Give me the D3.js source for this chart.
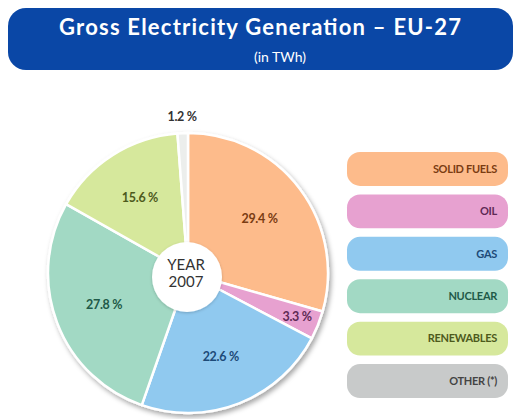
<!DOCTYPE html>
<html>
<head>
<meta charset="utf-8">
<script src="https://cdn.jsdelivr.net/npm/d3@7"></script>
<style>
  html, body { margin: 0; padding: 0; background: #ffffff; }
  svg { display: block; }
  text { font-family: Lato, "Open Sans", sans-serif; }
</style>
</head>
<body>
<svg id="chart" width="516" height="419"></svg>
<script>
// Gross electricity generation shares, EU-27, 2007
const sources = ["SOLID FUELS", "OIL", "GAS", "NUCLEAR", "RENEWABLES", "OTHER (*)"];
const shares = [29.4, 3.3, 22.6, 27.8, 15.6, 1.2];
const sliceColors = ["#fdbb8b", "#e7a1d0", "#90c9ef", "#a2d9c4", "#d6e89c", "#eceeec"];
const pillColors = ["#fdbb8b", "#e7a1d0", "#90c9ef", "#a2d9c4", "#d6e89c", "#c8caca"];
const textColors = ["#7a3c12", "#5e2a55", "#1d4a78", "#1f5a48", "#4d5a1c", "#444444"];
const yearLabel = ["YEAR", "2007"];

const svg = d3.select("#chart");

// drop shadow for the pie
const defs = svg.append("defs");
const shadow = defs.append("filter").attr("id", "pieShadow")
  .attr("x", "-20%").attr("y", "-20%").attr("width", "140%").attr("height", "140%");
shadow.append("feDropShadow").attr("dx", 2).attr("dy", 3)
  .attr("stdDeviation", 2.5).attr("flood-color", "#000").attr("flood-opacity", 0.35);
const innerShadow = defs.append("filter").attr("id", "holeShadow")
  .attr("x", "-30%").attr("y", "-30%").attr("width", "160%").attr("height", "160%");
innerShadow.append("feDropShadow").attr("dx", 0).attr("dy", 1)
  .attr("stdDeviation", 1.5).attr("flood-color", "#000").attr("flood-opacity", 0.2);

// title banner
svg.append("rect")
  .attr("x", 8).attr("y", 8).attr("width", 505).attr("height", 62)
  .attr("rx", 18).attr("ry", 18)
  .attr("fill", "#0a47a6");
svg.append("text")
  .attr("x", 260).attr("y", 35)
  .attr("text-anchor", "middle")
  .attr("fill", "#ffffff").attr("font-weight", 700).attr("font-size", 22)
  .attr("textLength", 402).attr("lengthAdjust", "spacing")
  .text("Gross Electricity Generation \u2013 EU-27");
svg.append("text")
  .attr("x", 280).attr("y", 62)
  .attr("text-anchor", "middle")
  .attr("fill", "#ffffff").attr("font-size", 14)
  .text("(in TWh)");

// pie
const cx = 188, cy = 273, radius = 140;
const pie = d3.pie().sort(null).value(d => d)(shares);
const arc = d3.arc().innerRadius(0).outerRadius(radius);

const g = svg.append("g").attr("transform", `translate(${cx},${cy})`);
const slices = g.append("g").attr("filter", "url(#pieShadow)");
slices.selectAll("path")
  .data(pie)
  .join("path")
  .attr("d", arc)
  .attr("fill", (d, i) => sliceColors[i])
  .attr("stroke", "#ffffff")
  .attr("stroke-width", 2.5)
  .attr("stroke-linejoin", "round");

// label radius depends on slice size: tiny ones sit outside, thin ones near the rim
function labelRadius(v) {
  if (v < 2) return radius + 16;
  if (v < 5) return radius * 0.84;
  return radius * 0.64;
}
g.selectAll("text.pct")
  .data(pie)
  .join("text")
  .attr("class", "pct")
  .attr("transform", d => {
    const a = (d.startAngle + d.endAngle) / 2;
    const r = labelRadius(d.data);
    return `translate(${r * Math.sin(a)},${-r * Math.cos(a)})`;
  })
  .attr("text-anchor", "middle")
  .attr("dy", "0.35em")
  .attr("font-size", 12.5)
  .attr("font-weight", 700)
  .attr("letter-spacing", -0.3)
  .attr("fill", (d, i) => d.data < 2 ? "#333333" : textColors[i])
  .text(d => `${d.data.toFixed(1)} %`);

// centre disc with the year
g.append("circle")
  .attr("cx", -1).attr("cy", 4).attr("r", 35)
  .attr("fill", "#ffffff")
  .attr("filter", "url(#holeShadow)");
g.selectAll("text.year")
  .data(yearLabel)
  .join("text")
  .attr("class", "year")
  .attr("x", -2)
  .attr("y", (d, i) => -3 + i * 17)
  .attr("text-anchor", "middle")
  .attr("font-size", 15)
  .attr("fill", "#333333")
  .text(d => d);

// legend pills
const legendY = d3.scaleBand().domain(sources).range([152, 398]).paddingInner(0.2);
const legend = svg.append("g");
const items = legend.selectAll("g")
  .data(sources)
  .join("g")
  .attr("transform", d => `translate(347,${legendY(d)})`);
items.append("rect")
  .attr("width", 161)
  .attr("height", legendY.bandwidth())
  .attr("rx", 13).attr("ry", 13)
  .attr("fill", (d, i) => pillColors[i]);
items.append("text")
  .attr("x", 150)
  .attr("y", legendY.bandwidth() / 2)
  .attr("dy", "0.35em")
  .attr("text-anchor", "end")
  .attr("font-size", 11)
  .attr("font-weight", 700)
  .attr("letter-spacing", -0.3)
  .attr("fill", (d, i) => textColors[i])
  .text(d => d);
</script>
</body>
</html>
